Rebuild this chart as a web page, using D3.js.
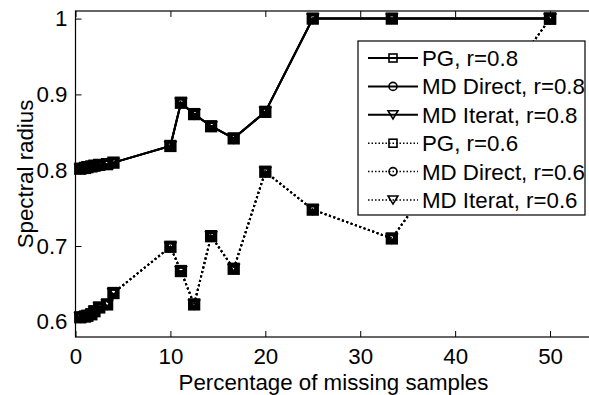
<!DOCTYPE html>
<html>
<head>
<meta charset="utf-8">
<script src="https://cdn.jsdelivr.net/npm/d3@7"></script>
<style>
  html, body { margin: 0; padding: 0; background: #fff; }
  svg { display: block; font-family: "Liberation Sans", Arial, Helvetica, sans-serif; }
</style>
</head>
<body>
<svg id="chart" width="589" height="395"></svg>
<script>
// ---- data ----
const missingPct = [0.5, 1, 1.25, 1.67, 2, 2.5, 3.33, 4, 10, 11.11, 12.5, 14.29, 16.67, 20, 25, 33.33, 50];
const pgR08       = [0.802, 0.803, 0.804, 0.805, 0.806, 0.807, 0.808, 0.810, 0.832, 0.889, 0.874, 0.858, 0.842, 0.877, 1.0, 1.0, 1.0];
const mdDirectR08 = [0.802, 0.803, 0.804, 0.805, 0.806, 0.807, 0.808, 0.810, 0.832, 0.889, 0.874, 0.858, 0.842, 0.877, 1.0, 1.0, 1.0];
const mdIteratR08 = [0.802, 0.803, 0.804, 0.805, 0.806, 0.807, 0.808, 0.810, 0.832, 0.889, 0.874, 0.858, 0.842, 0.877, 1.0, 1.0, 1.0];
const pgR06       = [0.606, 0.607, 0.608, 0.610, 0.614, 0.619, 0.623, 0.638, 0.699, 0.667, 0.623, 0.713, 0.670, 0.798, 0.748, 0.710, 1.0];
const mdDirectR06 = [0.606, 0.607, 0.608, 0.610, 0.614, 0.619, 0.623, 0.638, 0.699, 0.667, 0.623, 0.713, 0.670, 0.798, 0.748, 0.710, 1.0];
const mdIteratR06 = [0.606, 0.607, 0.608, 0.610, 0.614, 0.619, 0.623, 0.638, 0.699, 0.667, 0.623, 0.713, 0.670, 0.798, 0.748, 0.710, 1.0];
const seriesNames = ["PG, r=0.8", "MD Direct, r=0.8", "MD Iterat, r=0.8", "PG, r=0.6", "MD Direct, r=0.6", "MD Iterat, r=0.6"];
const xTicks = [0, 10, 20, 30, 40, 50];
const yTicks = [0.6, 0.7, 0.8, 0.9, 1];
const xLabel = "Percentage of missing samples";
const yLabel = "Spectral radius";

(function () {
// ---- layout ----
const svg = d3.select("#chart");
const mL = 75.5, mR = 597.5, mT = 11, mB = 337;
const x = d3.scaleLinear().domain([0, 55]).range([mL, mR]);
const y = d3.scaleLinear().domain([0.58, 1.01]).range([mB, mT]);
const FS = 22.3;

const series = [
  { name: seriesNames[0], values: pgR08, marker: "square", dotted: false },
  { name: seriesNames[1], values: mdDirectR08, marker: "circle", dotted: false },
  { name: seriesNames[2], values: mdIteratR08, marker: "triangle", dotted: false },
  { name: seriesNames[3], values: pgR06, marker: "square", dotted: true },
  { name: seriesNames[4], values: mdDirectR06, marker: "circle", dotted: true },
  { name: seriesNames[5], values: mdIteratR06, marker: "triangle", dotted: true }
];

// axes
const tickLen = 6;
const axBottom = d3.axisBottom(x).tickValues(xTicks).tickSizeInner(-tickLen).tickSizeOuter(0).tickPadding(11).tickFormat(d3.format("d"));
const axTop = d3.axisTop(x).tickValues(xTicks).tickSizeInner(-tickLen).tickSizeOuter(0).tickFormat("");
const axLeft = d3.axisLeft(y).tickValues(yTicks).tickSizeInner(-tickLen).tickSizeOuter(0).tickPadding(8).tickFormat(d => d === 1 ? "1" : d3.format(".1f")(d));
const axRight = d3.axisRight(y).tickValues(yTicks).tickSizeInner(-tickLen).tickSizeOuter(0).tickFormat("");

function styleAxis(g) {
  g.select(".domain").remove();
  g.selectAll(".tick line").attr("stroke", "#000").attr("stroke-width", 1);
  g.selectAll(".tick text").attr("fill", "#000").style("font-size", FS + "px").style("font-family", '"Liberation Sans", Arial, sans-serif');
}
svg.append("g").attr("transform", `translate(0,${mB})`).call(axBottom).call(styleAxis);
svg.append("g").attr("transform", `translate(0,${mT})`).call(axTop).call(styleAxis);
svg.append("g").attr("transform", `translate(${mL},0)`).call(axLeft).call(styleAxis);
svg.append("g").attr("transform", `translate(${mR},0)`).call(axRight).call(styleAxis);

// frame
svg.append("rect").attr("x", mL).attr("y", mT).attr("width", mR - mL).attr("height", mB - mT)
  .attr("fill", "none").attr("stroke", "#000").attr("stroke-width", 1.2);

// labels
svg.append("text").attr("x", (mL + mR) / 2 - 3).attr("y", 389.5).attr("text-anchor", "middle")
  .style("font-size", FS + "px").text(xLabel);
svg.append("text").attr("transform", `translate(33,${(mT + mB) / 2}) rotate(-90)`).attr("text-anchor", "middle")
  .style("font-size", FS + "px").text(yLabel);

// marker drawing
function drawMarker(g, type, size, sw) {
  if (type === "square") {
    g.append("rect").attr("x", -size / 2).attr("y", -size / 2).attr("width", size).attr("height", size)
      .attr("fill", "none").attr("stroke", "#000").attr("stroke-width", sw);
  } else if (type === "circle") {
    g.append("circle").attr("r", size / 2).attr("fill", "none").attr("stroke", "#000").attr("stroke-width", sw);
  } else {
    const h = size * 0.9, w = size * 1.1;
    g.append("path").attr("d", `M${-w / 2},${-h / 2}L${w / 2},${-h / 2}L0,${h / 2}Z`)
      .attr("fill", "none").attr("stroke", "#000").attr("stroke-width", sw);
  }
}

const line = d3.line().x(d => x(d[0])).y(d => y(d[1]));
const plot = svg.append("g");
series.forEach(s => {
  const pts = missingPct.map((v, i) => [v, s.values[i]]);
  plot.append("path").datum(pts).attr("d", line).attr("fill", "none").attr("stroke", "#000")
    .attr("stroke-width", 2).attr("stroke-dasharray", s.dotted ? "2,2.6" : null);
});
series.forEach(s => {
  missingPct.forEach((v, i) => {
    const g = plot.append("g").attr("transform", `translate(${x(v)},${y(s.values[i])})`);
    drawMarker(g, s.marker, s.marker === "square" ? 9.5 : 8, 2.8);
  });
});

// legend
const legX = 358, legY = 41, legW = 227, legH = 174;
const leg = svg.append("g");
leg.append("rect").attr("x", legX).attr("y", legY).attr("width", legW).attr("height", legH)
  .attr("fill", "#fff").attr("stroke", "#000").attr("stroke-width", 1.2);
series.forEach((s, i) => {
  const cy = 58 + i * 28.4;
  leg.append("line").attr("x1", 368).attr("x2", 418).attr("y1", cy).attr("y2", cy)
    .attr("stroke", "#000").attr("stroke-width", s.dotted ? 1.5 : 2).attr("stroke-dasharray", s.dotted ? "1.5,2" : null);
  const g = leg.append("g").attr("transform", `translate(393,${cy})`);
  drawMarker(g, s.marker, s.marker === "triangle" ? 9 : 8, 1.6);
  leg.append("text").attr("x", 422).attr("y", cy).attr("dy", "0.36em").style("font-size", FS + "px").text(s.name);
});
})();
</script>
</body>
</html>
